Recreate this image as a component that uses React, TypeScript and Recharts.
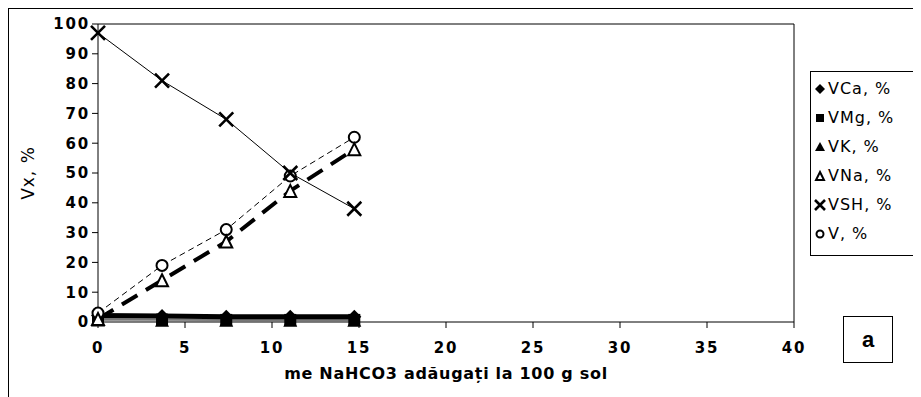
import React from "react";
import { LineChart, Line, XAxis, YAxis, ReferenceLine } from "recharts";

// me NaHCO3 added per 100 g soil
const doses = [0, 3.68, 7.37, 11.05, 14.73];

const vCa = [2.2, 2.0, 1.8, 1.8, 1.8];
const vMg = [1.0, 0.8, 0.7, 0.7, 0.7];
const vK = [0.5, 0.4, 0.4, 0.4, 0.4];
const vNa = [1, 14, 27, 44, 58];
const vSH = [97, 81, 68, 50, 38];
const vTot = [3, 19, 31, 49, 62];

const xTicks = [0, 5, 10, 15, 20, 25, 30, 35, 40];
const yTicks = [0, 10, 20, 30, 40, 50, 60, 70, 80, 90, 100];

const rows = doses.map((x, i) => ({
  x,
  vCa: vCa[i],
  vMg: vMg[i],
  vK: vK[i],
  vNa: vNa[i],
  vSH: vSH[i],
  v: vTot[i],
}));

type Kind = "diamond" | "square" | "tri" | "triOpen" | "cross" | "circle";

function Marker({ kind, cx, cy, s = 7 }: { kind: Kind; cx: number; cy: number; s?: number }) {
  if (cx == null || cy == null) return null;
  switch (kind) {
    case "diamond":
      return <path d={`M${cx},${cy - s} L${cx + s},${cy} L${cx},${cy + s} L${cx - s},${cy} Z`} fill="#000" />;
    case "square":
      return <rect x={cx - s + 1} y={cy - s + 1} width={2 * s - 2} height={2 * s - 2} fill="#000" />;
    case "tri":
      return <path d={`M${cx},${cy - s} L${cx + s},${cy + s - 1} L${cx - s},${cy + s - 1} Z`} fill="#000" />;
    case "triOpen":
      return (
        <path
          d={`M${cx},${cy - s + 1} L${cx + s - 1},${cy + s - 1} L${cx - s + 1},${cy + s - 1} Z`}
          fill="#fff"
          stroke="#000"
          strokeWidth={2}
        />
      );
    case "cross":
      return (
        <path
          d={`M${cx - s},${cy - s} L${cx + s},${cy + s} M${cx + s},${cy - s} L${cx - s},${cy + s}`}
          stroke="#000"
          strokeWidth={2.6}
        />
      );
    case "circle":
      return <circle cx={cx} cy={cy} r={s - 1.5} fill="#fff" stroke="#000" strokeWidth={2} />;
  }
  return null;
}

const dotOf = (kind: Kind) => (p: any) => (
  <Marker key={`${kind}-${p.index}`} kind={kind} cx={p.cx} cy={p.cy} />
);

const legendItems: { kind: Kind; label: string }[] = [
  { kind: "diamond", label: "VCa, %" },
  { kind: "square", label: "VMg, %" },
  { kind: "tri", label: "VK, %" },
  { kind: "triOpen", label: "VNa, %" },
  { kind: "cross", label: "VSH, %" },
  { kind: "circle", label: "V, %" },
];

const FONT = "'DejaVu Sans', Verdana, sans-serif";

function LegendBox() {
  return (
    <div
      style={{
        position: "absolute",
        left: 801,
        top: 62,
        width: 120,
        borderTop: "1px solid #000",
        borderLeft: "1px solid #000",
        borderBottom: "1px solid #000",
        background: "#fff",
        padding: "2px 0 7px 3px",
        fontFamily: FONT,
        fontSize: 16,
        letterSpacing: 1,
        boxSizing: "border-box",
      }}
    >
      {legendItems.map((it) => (
        <div key={it.label} style={{ display: "flex", alignItems: "center", height: 29 }}>
          <svg width={13} height={14} style={{ marginRight: 1, flex: "none" }}>
            <Marker kind={it.kind} cx={6} cy={7} s={5} />
          </svg>
          <span>{it.label}</span>
        </div>
      ))}
    </div>
  );
}

const tickStyle = {
  fontSize: 15,
  fontWeight: 700,
  fill: "#000",
  fontFamily: FONT,
  letterSpacing: 1.8,
};

export default function App() {
  return (
    <div
      style={{
        position: "relative",
        width: 913,
        height: 389,
        borderTop: "1px solid #000",
        borderLeft: "1px solid #000",
        boxSizing: "border-box",
        fontFamily: FONT,
      }}
    >
      <LineChart
        width={912}
        height={388}
        data={rows}
        margin={{ top: 15, right: 127, left: 0, bottom: 0 }}
      >
        <XAxis
          dataKey="x"
          type="number"
          domain={[0, 40]}
          ticks={xTicks}
          tick={tickStyle}
          tickSize={6}
          tickMargin={14}
          stroke="#000"
          height={75}
          label={{
            value: "me NaHCO3 adăugați la 100 g sol",
            position: "insideTop",
            offset: 46,
            style: { ...tickStyle, fontSize: 16, letterSpacing: 0.7 },
          }}
        />
        <YAxis
          type="number"
          domain={[0, 100]}
          ticks={yTicks}
          tick={tickStyle}
          tickSize={6}
          tickMargin={2}
          stroke="#000"
          width={89}
          label={{
            value: "Vx, %",
            angle: -90,
            position: "insideLeft",
            offset: 19,
            style: { fontFamily: FONT, fontSize: 17, fill: "#000", letterSpacing: 1, textAnchor: "middle" },
          }}
        />
        <ReferenceLine y={100} stroke="#000" />
        <ReferenceLine x={40} stroke="#000" />
        <Line dataKey="vK" stroke="#999" strokeWidth={1} dot={dotOf("tri")} isAnimationActive={false} />
        <Line dataKey="vMg" stroke="#777" strokeWidth={2} dot={dotOf("square")} isAnimationActive={false} />
        <Line dataKey="vCa" stroke="#000" strokeWidth={5} dot={dotOf("diamond")} isAnimationActive={false} />
        <Line dataKey="v" stroke="#000" strokeWidth={1} strokeDasharray="6 4" dot={dotOf("circle")} isAnimationActive={false} />
        <Line dataKey="vNa" stroke="#000" strokeWidth={4} strokeDasharray="18 10" dot={dotOf("triOpen")} isAnimationActive={false} />
        <Line dataKey="vSH" stroke="#000" strokeWidth={1} dot={dotOf("cross")} isAnimationActive={false} />
      </LineChart>
      <LegendBox />
      <div
        style={{
          position: "absolute",
          left: 834,
          top: 307,
          width: 50,
          height: 47,
          border: "1px solid #000",
          boxSizing: "border-box",
          background: "#fff",
          display: "flex",
          alignItems: "center",
          justifyContent: "center",
          fontSize: 22,
          fontWeight: 700,
          fontFamily: "'Liberation Sans', Arial, sans-serif",
        }}
      >
        a
      </div>
    </div>
  );
}
